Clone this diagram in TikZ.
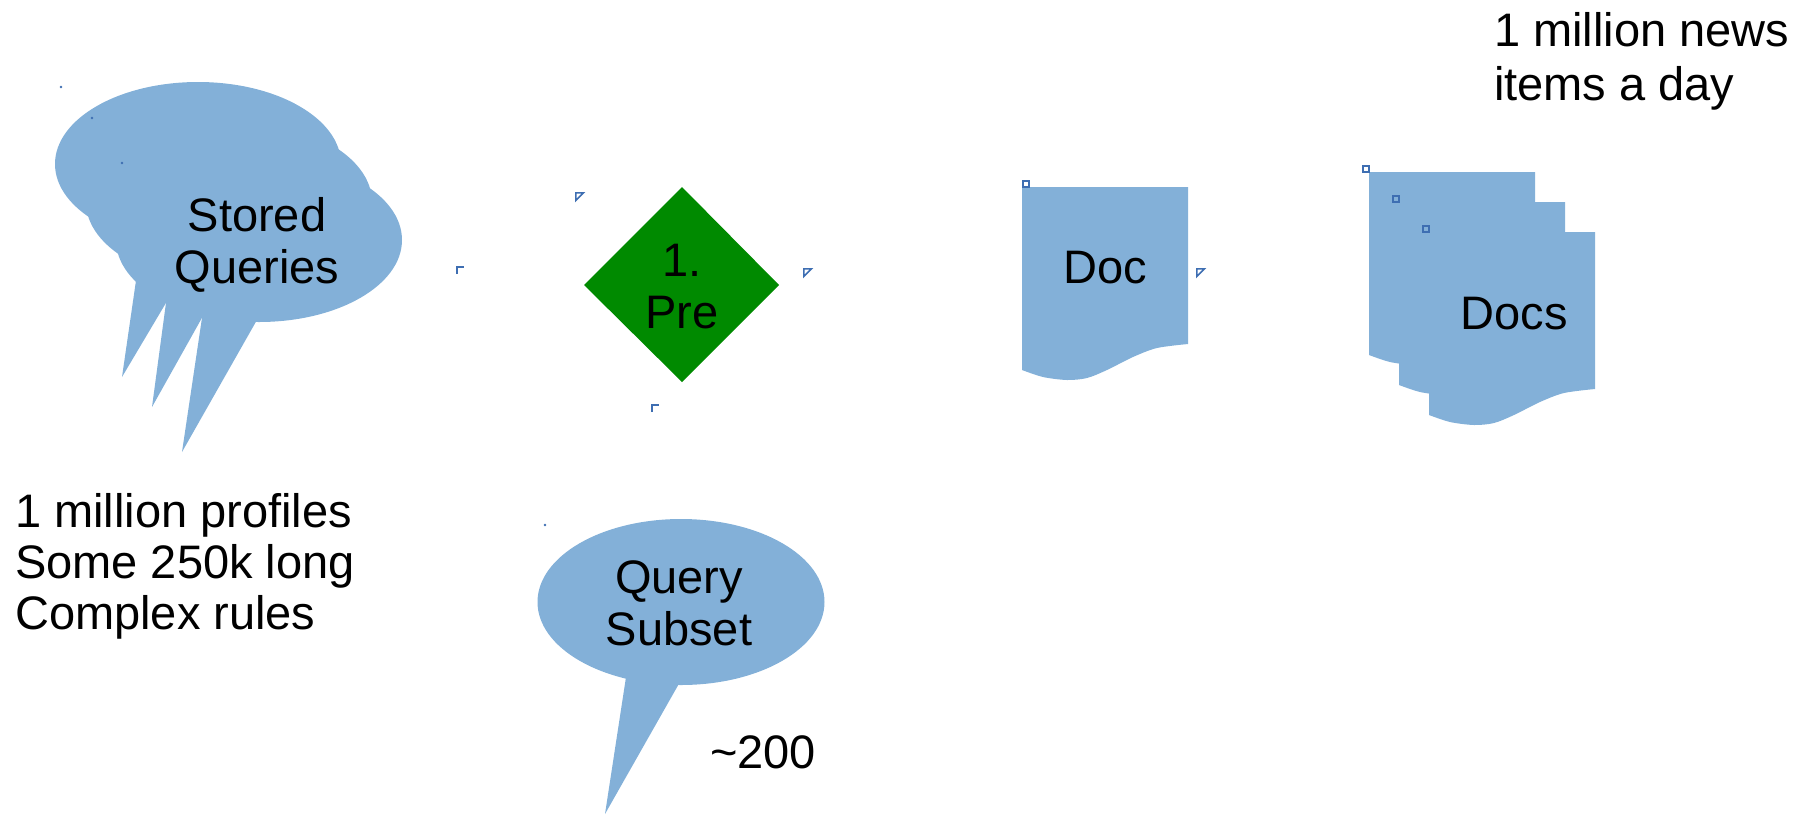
\documentclass[tikz,border=0pt]{standalone}
\usepackage{fontspec}
\setmainfont{Liberation Sans}
\definecolor{shapeblue}{RGB}{131,176,216}
\definecolor{decgreen}{RGB}{0,138,0}
\definecolor{markblue}{RGB}{62,110,178}
\tikzset{
  lbl/.style={font=\fontsize{47}{52}\selectfont, inner sep=0pt, anchor=base, align=center},
  lbll/.style={font=\fontsize{47}{51}\selectfont, inner sep=0pt, anchor=base west, align=left},
  shapefill/.style={fill=shapeblue},
  markline/.style={draw=markblue, line width=1.6pt},
  docpic/.pic={\fill[shapeblue] (0,0) -- (166,0) -- (166,157) -- plot[smooth] coordinates {(166,157)(135,161)(111,170)(85,183)(65,191)(45,193)(21,190)(0,183)} -- cycle;}
}
\begin{document}
\begin{tikzpicture}[x=1pt,y=-1pt]
\useasboundingbox (0,0) rectangle (1816,815);
% Stored queries (three stacked callouts)
\fill[shapefill] (198,164) ellipse [x radius=143, y radius=82];
\fill[shapefill] (122,377) -- (140,253) -- (179,281) -- cycle;
\fill[shapefill] (229,202) ellipse [x radius=143, y radius=82];
\fill[shapefill] (152,407) -- (170,273) -- (217,291) -- cycle;
\fill[shapefill] (259,240) ellipse [x radius=143, y radius=82];
\fill[shapefill] (182,452) -- (206,291) -- (270,297) -- cycle;
\node[lbl] (sq) at (257,283) {Stored\\Queries};
% Query subset callout
\fill[shapefill] (681,602) ellipse [x radius=143.5, y radius=83];
\fill[shapefill] (605,814) -- (630,651) -- (693,659) -- cycle;
\node[lbl] (qs) at (679,645) {Query\\Subset};
\node[lbll] (n200) at (710,768) {\textasciitilde 200};
% Diamond
\fill[decgreen] (682,187) -- (779,285) -- (682,382) -- (584,285) -- cycle;
\node[lbl] (pre) at (682,328) {1.\\Pre};
% Single doc
\pic at (1022,187) {docpic};
\node[lbl] (doc) at (1105,283) {Doc};
% Docs stack
\pic at (1369,172) {docpic};
\pic at (1399,202) {docpic};
\pic at (1429,232) {docpic};
\node[lbl] (docs) at (1514,329) {Docs};
% Texts
\node[lbll] (prof) at (15,629) {1 million profiles\\Some 250k long\\Complex rules};
\node[lbll, font=\fontsize{47}{54}\selectfont] (news) at (1494,100) {1 million news\\items a day};
% selection markers
\draw[markline] (575.8,192.8) -- (583.5,192.8) -- (575.8,200.5) -- cycle;
\draw[markline] (803.8,268.8) -- (811.5,268.8) -- (803.8,276.5) -- cycle;
\draw[markline] (1196.8,268.8) -- (1204.5,268.8) -- (1196.8,276.5) -- cycle;
\draw[markline] (457,274) -- (457,267) -- (464,267);
\draw[markline] (652,412) -- (652,405) -- (659,405);
\draw[markline] (1022.8,180.8) rectangle (1029.2,187.2);
\draw[markline] (1362.8,165.8) rectangle (1369.2,172.2);
\draw[markline] (1392.8,195.8) rectangle (1399.2,202.2);
\draw[markline] (1422.8,225.8) rectangle (1429.2,232.2);
\fill[markblue] (61,87) circle (1.3);
\fill[markblue] (92,118) circle (1.3);
\fill[markblue] (122,163) circle (1.3);
\fill[markblue] (545,525) circle (1.3);
\end{tikzpicture}
\end{document}
